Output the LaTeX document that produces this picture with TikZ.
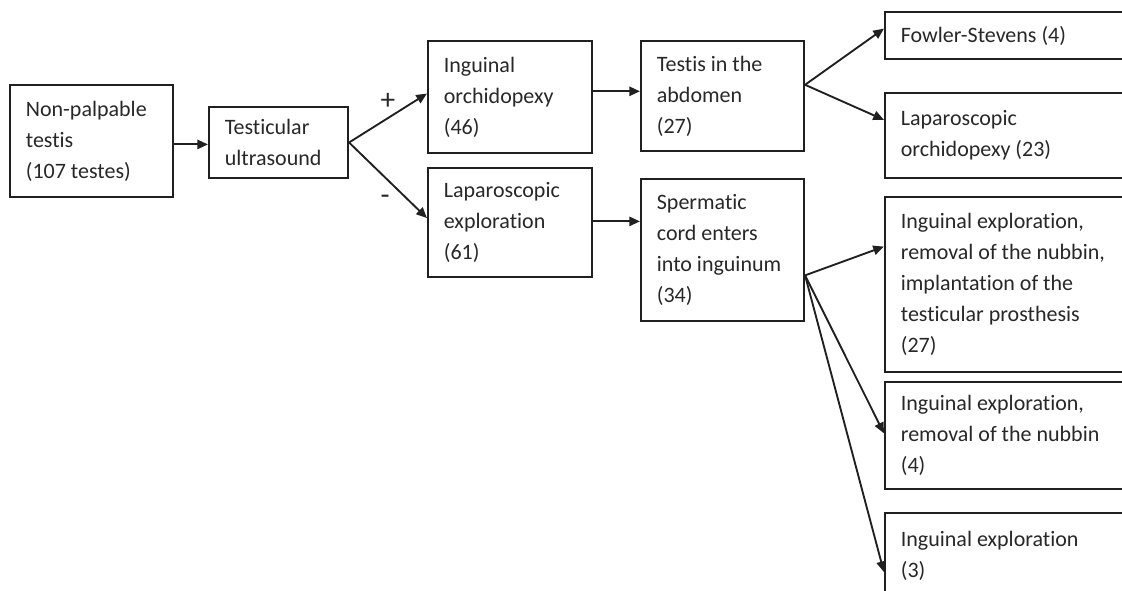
\documentclass[tikz,border=0pt]{standalone}
\usepackage{fontspec}
\setmainfont{Carlito}[RawFeature={-liga;-clig}]
\usetikzlibrary{arrows.meta,calc}
\definecolor{ln}{HTML}{202020}
\definecolor{tx}{HTML}{282828}
\newcommand\bx[6]{%
  \node[boxst, minimum width=#4*0.75pt, minimum height=#5*0.75pt] (#1) at (#2+#4/2,#3+#5/2) {};
  \node[txtst, anchor=west] (#1t) at ([xshift=12.5pt]#1.west) {#6};}
\tikzset{
  boxst/.style={draw=ln, line width=1.6pt, fill=white, inner sep=0pt},
  txtst/.style={text=tx, align=left, inner sep=0pt, font=\fontsize{16.5}{23.25}\selectfont},
  arr/.style={draw=ln, line width=1.4pt, -{Triangle[length=8pt,width=7pt]}},
  sign/.style={text=tx, inner sep=0pt, font=\fontsize{22}{24}\selectfont}
}
\begin{document}
\begin{tikzpicture}[x=0.75pt,y=-0.75pt]
\clip (0,0) rectangle (1122,590);
\fill[white] (0,0) rectangle (1122,590);
\bx{np}{10}{85}{163}{112}{Non-palpable\\testis\\(107 testes)}
\bx{tu}{209}{107}{139}{71}{Testicular\\ultrasound}
\bx{io}{428}{41}{164}{112}{Inguinal\\orchidopexy\\(46)}
\bx{le}{428}{168}{164}{109}{Laparoscopic\\exploration\\(61)}
\bx{ta}{641}{41}{163}{110}{Testis in the\\abdomen\\(27)}
\bx{sc}{641}{179}{163}{142}{Spermatic\\cord enters\\into inguinum\\(34)}
\bx{fs}{885}{12}{260}{47}{Fowler-Stevens (4)}
\bx{lo}{885}{93}{260}{85}{Laparoscopic\\orchidopexy (23)}
\bx{ie1}{885}{197}{260}{175}{Inguinal exploration,\\removal of the nubbin,\\implantation of the\\testicular prosthesis\\(27)}
\bx{ie2}{885}{382}{260}{107}{Inguinal exploration,\\removal of the nubbin\\(4)}
\bx{ie3}{885}{513}{260}{85}{Inguinal exploration\\(3)}
\draw[arr] ($(np.north east)!0.53!(np.south east)$) coordinate (a1) -- (a1 -| tu.west);
\draw[arr] (tu.east) -- ($(io.north west)!0.47!(io.south west)$);
\draw[arr] (tu.east) -- ($(le.north west)!0.46!(le.south west)$);
\draw[arr] ($(io.north east)!0.45!(io.south east)$) coordinate (a2) -- (a2 -| ta.west);
\draw[arr] ($(le.north east)!0.49!(le.south east)$) coordinate (a3) -- (a3 -| sc.west);
\coordinate (tb) at ($(ta.north east)!0.4!(ta.south east)$);
\draw[arr] (tb) -- ($(fs.north west)!0.36!(fs.south west)$);
\draw[arr] (tb) -- ($(lo.north west)!0.32!(lo.south west)$);
\coordinate (sb) at ($(sc.north east)!0.676!(sc.south east)$);
\draw[arr] (sb) -- ($(ie1.north west)!0.286!(ie1.south west)$);
\draw[arr] (sb) -- ($(ie2.north west)!0.48!(ie2.south west)$);
\draw[arr] (sb) -- ($(ie3.north west)!0.69!(ie3.south west)$);
\node[sign] (plus) at (388,101) {+};
\node[sign] (minus) at (385,200) {-};
\end{tikzpicture}
\end{document}
